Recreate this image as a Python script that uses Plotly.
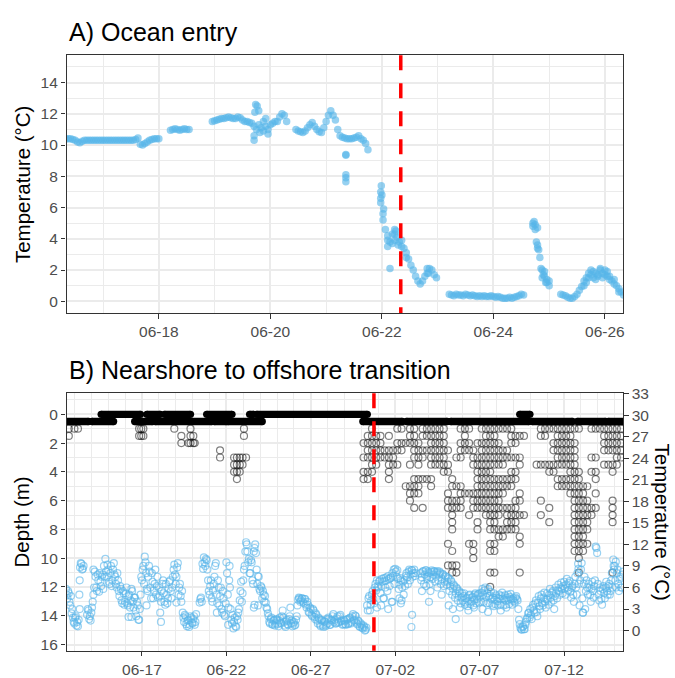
import pandas as pd
import plotly.graph_objects as go

YEAR = "2021-"

# ---------------- Panel A: ocean entry (hourly temperature readings) ----------------
a_seg_start = ["06-16 08:00", "06-18 05:00", "06-18 23:00", "06-20 11:00",
               "06-21 23:30", "06-23 05:00", "06-24 17:00", "06-25 05:00"]
a_seg_temp = [
    [10.4, 10.4, 10.4, 10.35, 10.3, 10.2, 10.15, 10.25, 10.3, 10.3, 10.3, 10.3, 10.3, 10.3, 10.3, 10.3,
     10.3, 10.3, 10.3, 10.3, 10.3, 10.3, 10.3, 10.3, 10.3, 10.3, 10.3, 10.3, 10.3, 10.3, 10.35, 10.45,
     10.05, 10.0, 10.1, 10.2, 10.3, 10.35, 10.4, 10.4, 10.4],
    [10.95, 11.0, 11.05, 11.0, 10.95, 11.0, 11.05, 11.0, 11.0],
    [11.5, 11.55, 11.6, 11.65, 11.7, 11.7, 11.75, 11.8, 11.75, 11.7, 11.7, 11.8, 11.75, 11.6, 11.5, 11.5,
     11.45, 11.4, 11.2, 11.0, 11.3, 11.1, 10.9, 11.2, 11.0, 11.3, 11.4, 11.5, 11.5, 11.8, 12.0, 11.9, 11.5],
    [11.0, 10.9, 10.85, 10.8, 10.9, 11.1, 11.3, 11.45, 11.2, 11.0, 10.85, 10.8, 11.1, 11.5, 11.9, 12.2,
     11.9, 11.6, 11.0, 10.6, 10.5, 10.45, 10.4, 10.4, 10.4, 10.45, 10.5, 10.6, 10.4, 10.3, 10.1, 9.7],
    [7.0, 5.6, 4.6, 3.9, 3.8, 3.7, 4.3, 4.1, 3.8, 3.9, 3.4, 3.1, 2.7, 2.3, 2.0, 1.6, 1.3, 1.1, 1.3, 1.6,
     1.8, 2.1, 2.0, 1.7, 1.5],
    [0.45, 0.4, 0.35, 0.45, 0.4, 0.4, 0.35, 0.45, 0.4, 0.35, 0.4, 0.35, 0.3, 0.35, 0.3, 0.35, 0.3, 0.3,
     0.35, 0.3, 0.25, 0.3, 0.25, 0.2, 0.2, 0.2, 0.25, 0.2, 0.25, 0.3, 0.35, 0.45, 0.4],
    [5.0, 4.9, 4.7, 2.8, 2.0, 1.6, 1.4, 1.0],
    [0.45, 0.4, 0.35, 0.25, 0.2, 0.2, 0.3, 0.45, 0.7, 0.95, 1.3, 1.5, 1.8, 1.7, 1.9, 1.8, 1.7, 2.0, 1.8,
     1.7, 1.6, 1.6, 1.3, 1.1, 1.0, 0.8, 0.6, 0.4],
]
a_extra_time = ["06-19 17:00", "06-19 17:00", "06-19 17:20", "06-19 17:40", "06-19 18:20", "06-19 19:00",
                "06-19 19:30", "06-19 21:00", "06-19 22:00", "06-19 23:00",
                "06-21 08:30", "06-21 08:30", "06-21 08:30", "06-21 08:30", "06-21 08:30",
                "06-21 23:30", "06-21 23:30", "06-21 23:45", "06-22 00:00", "06-22 00:30", "06-22 00:45",
                "06-22 02:30", "06-22 02:30", "06-22 03:30", "06-22 04:30", "06-22 05:30", "06-22 05:30",
                "06-22 06:00", "06-22 07:00", "06-22 08:30", "06-22 10:30", "06-22 19:30", "06-22 20:00",
                "06-24 17:00", "06-24 17:30", "06-24 18:00", "06-24 18:30", "06-24 19:00", "06-24 19:00",
                "06-24 19:30", "06-24 20:30", "06-24 21:00", "06-24 21:30", "06-24 22:00", "06-24 22:30",
                "06-24 23:00", "06-25 00:00",
                "06-25 15:00", "06-25 16:00", "06-25 17:00", "06-25 18:00", "06-25 19:00", "06-25 20:00",
                "06-25 21:00", "06-25 22:00", "06-25 23:00", "06-26 00:00", "06-26 01:00", "06-26 02:00",
                "06-26 04:00", "06-26 06:00"]
a_extra_temp = [10.3, 10.6, 12.1, 12.6, 12.5, 12.2, 10.8, 11.5, 11.7, 10.7,
                9.4, 9.35, 8.1, 7.9, 7.65,
                6.3, 6.6, 7.4, 6.8, 5.2, 5.9,
                3.5, 4.2, 2.1, 4.3, 4.6, 3.9, 4.5, 3.6, 3.5, 2.8, 2.1, 1.8,
                4.8, 5.1, 4.6, 3.8, 3.6, 3.4, 3.3, 2.1, 1.5, 1.7, 1.9, 1.2, 1.2, 1.3,
                1.0, 1.2, 1.5, 2.0, 1.5, 1.4, 1.6, 2.1, 1.5, 2.0, 1.9, 1.4, 1.4, 0.6]
a_release = "06-22 08:08"
a_xrange = ["06-16 08:15", "06-26 07:51"]

# ---------------- Panel B: nearshore to offshore ----------------
# hourly temperature, one row per day (first row starts 06-12 12:00)
b_temp_start = "06-12 12:00"
b_temp_1h = [
    [5.8, 5.0, 4.5, 5.5, 5.2, 4.0, 3.5, 4.8, 2.4, 3.0, 1.8, 1.2],                                         # 06-12
    [1.0, 1.8, 2.0, 0.7, 1.2, 0.6, 1.5, 5.0, 8.8, 9.4, 9.3, 8.5, 8.6, 9.0, None, None, None, None, 2.2, 3.0, 2.8, 1.6, 2.0, 1.4],
    [2.5, 3.2, 4.0, 5.0, 6.0, 8.2, 7.5, 6.0, 5.5, 7.8, 7.0, 5.4, 8.0, 6.8, 6.2, 7.5, 7.8, 5.8, 9.0, 7.5, 10.0, 8.2, 7.5, 9.2],
    [8.5, 6.8, 6.5, 8.0, 9.0, 6.2, 7.0, 8.5, 9.4, 7.8, 7.5, 6.5, 6.0, 8.0, 7.0, 5.5, 4.8, 6.2, 5.8, 4.2, 3.8, 5.5, 5.2, 3.6],
    [4.0, 5.2, 6.0, 3.8, 3.5, 4.8, 5.0, 3.2, 4.2, 5.8, 5.5, 4.0, 3.2, 4.6, 4.6, 2.8, 2.0, 4.0, 3.5, 1.5, 1.5, 3.0, 5.0, 7.5],
    [7.0, 8.5, 9.0, 6.5, 10.3, 9.5, 8.0, 5.8, 5.5, 7.5, 9.0, 8.2, 6.0, 4.5, 8.0, 6.8, 4.5, 5.6, 6.5, 8.5, 5.0, 6.2, 7.5, 4.6],
    [6.0, 4.8, 2.5, 4.0, 5.5, 6.5, 7.0, 5.2, 4.0, 3.6, 6.5, 5.0, 3.8, 4.5, 5.8, 6.8, 7.0, 5.5, 4.5, 6.0, 7.5, 8.5, 9.2, 7.8],
    [6.5, 7.5, 8.8, 9.4, 5.0, 6.0, 6.5, 4.8, 4.0, 5.5, 2.5, 1.8, 1.2, 2.2, 2.0, 0.9, 0.6, 1.4, 1.5, 0.5, 0.8, 2.0, 1.8, 1.1],
    [1.0, 1.6, 2.0, 0.8, 1.2, 2.3, None, None, None, None, 3.9, 4.4, 4.6, 4.0, 9.3, 8.6, 10.2, 9.5, 9.0, 10.0, 9.8, 8.5, 7.0, 5.5],
    [5.0, 6.2, 7.0, 4.5, 4.0, 5.6, 6.5, 7.5, 9.0, 9.4, 5.0, 3.8, 7.0, 6.0, 3.5, 4.8, 6.0, 3.0, 2.5, 5.5, 4.5, 2.2, 2.0, 3.8],
    [9.5, 8.0, 5.0, 3.2, 7.0, 6.0, 3.0, 1.5, 1.0, 2.2, 0.3, 1.2, 1.8, 0.6, 0.5, 2.0, 1.5, 2.5, 3.0, 4.2, 5.5, 6.8, 4.0, 5.2],
    [7.0, 8.5, 9.0, 11.0, 12.3, 12.0, 11.0, 9.5, 10.0, 8.0, 8.0, 9.8, 9.5, 7.0, 6.5, 11.0, 11.5, 12.0, 10.8, 8.5, 6.5, 7.6, 7.5, 5.8],
    [5.5, 6.2, 6.0, 4.5, 5.5, 5.0, 4.0, 4.8, 3.9, 3.2, 3.0, 2.4, 2.0, 1.2, 1.0, 1.6, 1.8, 0.9, 0.8, 1.4, 1.5, 0.7, 1.0, 1.6],
    [1.5, 0.9, 0.6, 1.4, 1.8, 1.1, 1.0, 2.0, 2.8, 1.8, 1.2, 0.7, 0.5, 1.3, 1.5, 0.9, 0.8, 1.6, 2.0, 3.2, 1.0, 1.4, 0.6, 1.0],
    [1.2, 0.7, 0.8, 1.5, 2.0, 3.5, 4.3, 4.6, 4.5, 4.0, 4.2, 4.5, 4.5, 4.0, 3.8, 4.4, 4.4, 3.6, 3.2, 4.0, 3.6, 2.6, 2.5, 3.2],
    [3.0, 2.2, 2.0, 3.0, 2.8, 1.9, 1.6, 2.4, 2.2, 1.4, 1.0, 1.8, 1.6, 0.8, 0.6, 1.5, 1.4, 0.7, 0.5, 1.3, 1.2, 0.6, 0.8, 1.6],
    [1.0, 1.8, 1.6, 0.8, 0.8, 1.5, 1.4, 2.0, 2.3, 1.2, 1.5, 1.0, 1.0, 1.7, 2.0, 1.1, 1.2, 2.0, 2.2, 1.3, 1.4, 0.8, 0.9, 1.5],
    [1.3, 0.9, 0.8, 1.5, 1.6, 0.9, 1.0, 1.7, 1.8, 1.0, 1.2, 2.0, 2.3, 1.4, 1.5, 2.1, 2.0, 1.1, 0.9, 1.4, 1.3, 0.6, 0.5, 1.0],
    [0.8, 0.4, 0.3, 0.7, 0.5, 0.0, 0.1, 0.4, 3.5, 2.8, 4.5, 4.8, 2.8, 3.6, 4.2, 5.0, 5.5, 4.4, 3.8, 6.0, 6.5, 5.6, 7.0, 6.2],
    [6.0, 6.8, 7.0, 5.2, 6.2, 7.2, 6.8, 4.5, 7.3, 6.9, 6.0, 7.4, 7.0, 5.5, 7.6, 7.2, 6.2, 7.3, 7.4, 4.0, 8.0, 7.6, 8.5, 6.5],
    [8.6, 8.2, 7.5, 8.4, 7.2, 5.8, 6.4, 7.3, 7.0, 4.2, 6.0, 6.8, 5.0, 7.0, 6.2, 7.6, 8.0, 7.4, 6.5, 8.2, 8.5, 7.0, 7.8, 8.4],
    [8.4, 7.5, 8.0, 8.5, 7.6, 8.0, None, None, None, None, None, None, 8.0, 7.0, 7.4, 8.2, 8.3, 6.5, 7.8, 8.4, 8.4, 7.2, 7.6, 8.2],
    [8.0, 6.5, 7.4, 8.2, 8.4, 7.2, 7.8, 8.3, 8.2, 6.8, 7.5, 8.1, 8.3, 7.0, 7.8, 8.2, 8.0, 6.5, 7.2, 7.9, 7.8, 6.2, 6.8, 7.6],
    [7.5, 6.4, 6.8, 7.4, 7.2, 5.5, 6.2, 7.0, 6.8, 5.0, 5.8, 6.4, 6.2, 4.6, 5.2, 6.0, 5.8, 4.2, 4.8, 5.5, 5.3, 3.8, 4.6, 5.2],
    [4.2, 4.8, 5.2, 3.6, 3.9, 4.5, 4.6, 3.4, 4.1, 4.9, 5.0, 3.7, 4.0, 4.6, 4.7, 3.5, 4.3, 5.0, 5.2, 3.8, 4.4, 4.9, 5.1, 3.9],
    [5.2, 4.7, 4.0, 5.3, 5.8, 5.0, 4.0, 5.6, 6.0, 4.7, 3.8, 5.2, 5.8, 4.8, 3.8, 4.9, 5.4, 4.4, 3.6, 4.6, 5.2, 4.3, 3.7, 4.9],
    [4.6, 4.1, 3.5, 4.5, 5.0, 4.4, 3.6, 4.8, 5.3, 4.5, 3.5, 4.3, 4.9, 4.2, 3.6, 4.6, 5.0, 4.3, 3.7, 4.7, 5.1, 4.4, 3.6, 4.3],
    [4.5, 4.1, 3.9, 4.6, 4.8, 4.4, 4.2, 3.0, 1.5, 0.9, 0.4, 0.2, 0.1, 0.5, 0.6, 0.2, 0.2, 0.8, 1.2, 1.6, 1.8, 2.4, 2.5, 1.8],
    [3.0, 2.2, 1.6, 3.2, 3.6, 2.8, 2.5, 3.8, 4.2, 2.6, 2.0, 3.9, 4.8, 3.4, 3.0, 4.5, 5.0, 3.8, 3.5, 4.6, 5.3, 4.0, 3.2, 4.4],
    [5.2, 4.3, 3.6, 5.0, 5.8, 4.6, 4.0, 5.3, 5.5, 4.2, 3.0, 4.8, 6.0, 5.2, 4.5, 5.6, 6.4, 5.5, 5.0, 6.0, 6.7, 5.8, 5.2, 6.2],
    [6.8, 5.8, 5.0, 6.4, 7.2, 6.0, 5.6, 6.6, 6.9, 5.4, 4.6, 6.0, 6.2, 5.0, 4.0, 6.5, 7.5, 6.0, 5.0, 8.0, 9.3, 6.5, 3.5, 7.0],
    [8.5, 9.4, 4.5, 2.5, 6.5, 7.5, 3.0, 5.5, 7.0, 6.0, 5.0, 6.5, 6.0, 5.0, 4.0, 5.8, 6.8, 5.5, 4.6, 6.2, 7.0, 11.7, 11.5, 10.8],
    [6.5, 5.0, 4.2, 6.0, 5.5, 4.4, 3.6, 5.8, 6.2, 5.2, 4.5, 6.0, 6.8, 5.5, 5.0, 6.2, 6.5, 5.0, 5.5, 7.0, 8.0, 6.0, 9.9, 8.5],
    [9.0, 7.0, 6.0, 8.0, 8.5, 6.5, 5.5, 7.2, 7.5, 6.0, 6.0, 7.8, 8.2],                                   # 07-15
]
b_extra_time = ["06-13 07:30", "06-13 07:30", "06-14 03:00", "06-16 05:00", "06-16 09:00",
                "06-17 06:30", "06-18 03:00", "06-19 01:00", "06-21 10:30",
                "06-22 02:30", "06-22 04:30", "06-23 15:00", "06-23 16:00", "06-23 21:00",
                "06-30 22:00", "07-01 04:00", "07-01 08:00", "07-01 14:00", "07-01 20:00", "07-02 06:00",
                "07-02 08:00", "07-02 23:00", "07-03 00:00", "07-03 14:00", "07-03 20:00", "07-04 00:00",
                "07-04 02:00", "07-04 12:00", "07-04 18:00", "07-05 04:00", "07-05 10:00", "07-05 14:00",
                "07-05 20:00", "07-06 08:00", "07-06 16:00", "07-07 04:00", "07-07 12:00", "07-07 20:00",
                "07-08 06:00", "07-08 14:00", "07-12 20:30", "07-13 02:30", "07-14 22:30", "07-15 01:30"]
b_extra_temp = [3.0, 7.0, 8.5, 1.9, 1.9,
                3.5, 1.2, 3.9, 2.5,
                0.8, 9.0, 3.2, 3.6, 3.5,
                3.2, 3.5, 4.5, 3.0, 4.0, 4.5,
                3.8, 0.5, 2.2, 5.5, 6.2, 4.0,
                5.5, 6.0, 5.0, 3.5, 3.0, 1.6,
                3.2, 2.8, 3.2, 3.0, 2.6, 3.4,
                2.8, 3.2, 8.6, 2.5, 9.0, 9.6]

# depth: runs of continuous near-surface readings
surf_run_start = ["06-12 11:00", "06-14 01:00", "06-14 14:00", "06-16 13:40", "06-17 07:00", "06-17 19:00",
                  "06-18 08:00", "06-20 20:00", "06-21 07:00", "06-22 02:00", "06-23 09:00", "06-23 19:00",
                  "06-30 02:00", "07-02 16:00", "07-05 07:00", "07-09 09:00", "07-10 03:00", "07-12 19:00",
                  "07-14 15:00"]
surf_run_end = ["06-13 20:00", "06-15 07:40", "06-16 22:00", "06-17 15:00", "06-18 02:00", "06-21 03:00",
                "06-19 21:00", "06-22 08:00", "06-22 00:00", "06-24 03:00", "06-23 15:00", "06-30 08:20",
                "07-02 10:00", "07-05 02:00", "07-09 22:00", "07-09 23:30", "07-12 12:00", "07-14 11:00",
                "07-15 14:00"]
surf_run_depth = [0.5, 0.5, 0, 0.5, 0, 0.5, 0, 0, 0.5, 0.5, 0, 0, 0.5, 0.5, 0.5, 0, 0.5, 0.5, 0.5]

# depth: deeper readings, grouped by time
dive_time = ["06-12 16:00", "06-13 00:00", "06-13 05:00", "06-16 20:00", "06-16 23:00", "06-17 02:00",
             "06-18 22:00", "06-19 08:00", "06-19 18:00", "06-19 21:00", "06-20 01:00", "06-20 03:00",
             "06-21 15:00", "06-22 11:00", "06-22 15:00", "06-22 19:00", "06-22 23:00", "06-23 01:00",
             "06-23 04:00",
             "06-30 03:00", "06-30 09:00", "06-30 15:00", "06-30 21:00",
             "07-01 03:00", "07-01 09:00", "07-01 15:00", "07-01 21:00",
             "07-02 03:00", "07-02 09:00", "07-02 15:00", "07-02 21:00",
             "07-03 03:00", "07-03 09:00", "07-03 15:00", "07-03 21:00",
             "07-04 03:00", "07-04 09:00", "07-04 15:00", "07-04 21:00",
             "07-05 03:00", "07-05 09:00", "07-05 15:00", "07-05 21:00",
             "07-06 03:00", "07-06 09:00", "07-06 15:00", "07-06 21:00",
             "07-07 03:00", "07-07 09:00", "07-07 15:00", "07-07 21:00",
             "07-08 03:00", "07-08 09:00", "07-08 15:00", "07-08 21:00",
             "07-09 03:00", "07-09 09:00", "07-09 15:00",
             "07-10 09:00", "07-10 15:00", "07-10 21:00",
             "07-11 03:00", "07-11 09:00", "07-11 15:00", "07-11 21:00",
             "07-12 03:00", "07-12 09:00", "07-12 15:00", "07-12 21:00",
             "07-13 03:00", "07-13 09:00", "07-13 15:00", "07-13 21:00",
             "07-14 03:00", "07-14 09:00", "07-14 15:00", "07-14 21:00",
             "07-15 03:00", "07-15 09:00"]
dive_depths = [[1, 1.5], [1], [1], [1, 1.5], [1, 1.5], [1, 1.5],
               [1], [1.5, 2], [2], [1, 1.5, 2], [1.5, 2], [2],
               [2.5, 3], [3, 3.5, 4], [3, 3.5, 4, 4.5], [3, 3.5, 4], [3, 3.5], [1, 1.5],
               [3],
               [2, 3, 4, 4.5], [1.5, 2, 2.5, 3, 4, 4.5], [1, 1.5, 2, 2.5, 3, 3.5, 4], [1.5, 2, 2.5, 3, 3.5],
               [1.5, 2, 2.5, 3], [2.5, 3], [1.5, 2.5, 3, 3.5, 4, 4.5], [2.5, 3, 3.5],
               [1, 2, 2.5, 3.5], [1, 2, 2.5], [2, 5], [1, 1.5, 2, 3.5, 5, 5.5, 6],
               [1, 1.5, 2, 2.5, 3, 4.5, 5, 5.5, 6.5], [2, 2.5, 3, 3.5, 4.5, 5, 5.5],
               [1, 1.5, 2.5, 3, 4.5, 6.5], [1, 1.5, 2.5, 4.5],
               [1, 1.5, 2, 2.5, 3, 3.5, 4.5, 5], [1, 1.5, 2, 2.5, 3, 3.5], [1, 1.5, 2, 2.5, 3, 3.5],
               [1, 1.5, 2, 2.5, 3, 3.5, 4],
               [2.5, 3.5, 4, 5.5, 6, 6.5, 9, 10.5], [4.5, 5, 6, 6.5, 7, 7.5, 8, 9.5, 10.5, 11],
               [3, 5, 6, 6.5, 10.5, 11], [1, 2, 2.5, 3, 5, 5.5, 6, 6.5],
               [1, 1.5, 2, 2.5, 5.5], [1, 2, 2.5, 5.5, 7, 9], [2.5, 3, 3.5, 5.5, 6, 6.5, 9, 9.5, 10],
               [2, 3, 3.5, 4, 4.5, 5, 5.5, 6, 6.5, 7.5, 8],
               [1, 2, 2.5, 3, 3.5, 4, 4.5, 5, 5.5, 6, 6.5], [1, 1.5, 2, 2.5, 3, 3.5, 4, 4.5, 5, 5.5, 6, 6.5, 7],
               [1, 1.5, 2, 2.5, 3, 3.5, 4, 4.5, 5, 5.5, 6, 6.5, 7, 7.5, 8, 9, 9.5, 11, 12],
               [1, 1.5, 2, 2.5, 3, 3.5, 4.5, 5, 5.5, 6, 6.5, 7, 7.5, 8, 9, 9.5, 11],
               [1, 2, 2.5, 3, 3.5, 4.5, 5, 5.5, 6, 6.5, 7, 8, 8.5], [1, 2.5, 3, 3.5, 4.5, 5, 5.5, 6.5, 8, 8.5],
               [1, 2.5, 3, 4.5, 5, 6.5, 7, 7.5, 8], [1, 1.5, 2, 3, 4, 4.5, 5, 6.5, 7, 7.5, 8],
               [1.5, 2, 3, 4, 4.5, 6, 6.5, 7, 7.5, 8], [1.5, 3, 3.5, 5.5, 6, 7, 8.5, 9, 11], [1.5, 7],
               [3.5], [1, 1.5, 3.5, 6, 7], [1, 1.5, 3.5],
               [1, 3.5, 4, 6.5, 7.5], [1, 2, 2.5, 3.5, 4], [1, 1.5, 2, 2.5, 3, 3.5, 4.5, 5],
               [1, 1.5, 2, 2.5, 3, 3.5, 4.5, 5],
               [1, 1.5, 2, 2.5, 3, 3.5, 4.5, 5], [1, 1.5, 2, 2.5, 3, 3.5, 4, 4.5, 5, 5.5],
               [1, 2, 2.5, 3, 3.5, 4, 4.5, 5, 5.5, 6, 6.5, 7, 7.5, 8, 8.5, 9, 9.5],
               [1, 4, 4.5, 5, 5.5, 6, 6.5, 7, 7.5, 8, 8.5, 9, 9.5, 10, 11],
               [5, 5.5, 6, 6.5, 7, 7.5, 8, 8.5, 9, 9.5], [5, 6, 6.5, 7, 7.5, 8, 9], [1, 3, 4, 6.5, 7],
               [1, 3, 4, 4.5, 5.5, 6.5],
               [1], [1, 1.5, 2, 2.5, 3.5], [1, 1.5, 2, 2.5, 3.5], [1, 1.5, 2, 2.5, 3.5, 4, 6, 6.5, 7, 7.5, 11],
               [1, 1.5, 2, 2.5, 3, 3.5], [1, 1.5, 2, 2.5, 3]]
b_release = "06-30 17:45"
b_xrange = ["06-12 12:45", "07-15 12:00"]

# ---------------- build ----------------
def ts(s):
    return pd.Timestamp(YEAR + s)

BLUE_A = "rgba(86,180,233,0.62)"
BLUE_B = "rgba(86,180,233,0.6)"
BLACK_B = "rgba(0,0,0,0.5)"

a_x, a_y = [], []
for start, vals in zip(a_seg_start, a_seg_temp):
    t0 = ts(start)
    for i, v in enumerate(vals):
        a_x.append(t0 + pd.Timedelta(hours=i))
        a_y.append(v)
a_x += [ts(s) for s in a_extra_time]
a_y += a_extra_temp

b_x, b_y = [], []
t0 = ts(b_temp_start)
k = 0
for row in b_temp_1h:
    for v in row:
        if v is not None:
            b_x.append(t0 + pd.Timedelta(hours=k))
            b_y.append(v)
        k += 1
b_x += [ts(s) for s in b_extra_time]
b_y += b_extra_temp

run_x, run_y = [], []
for s, e, d in zip(surf_run_start, surf_run_end, surf_run_depth):
    run_x += [ts(s), ts(e), None]
    run_y += [d, d, None]

dv_x, dv_y = [], []
for t, ds in zip(dive_time, dive_depths):
    for d in ds:
        dv_x.append(ts(t))
        dv_y.append(d)

fig = go.Figure()
fig.add_trace(go.Scatter(x=a_x, y=a_y, mode="markers", xaxis="x", yaxis="y",
                         marker=dict(size=7.5, color=BLUE_A, line=dict(width=0))))
fig.add_trace(go.Scatter(x=b_x, y=b_y, mode="markers", xaxis="x2", yaxis="y3",
                         marker=dict(symbol="circle-open", size=7, color=BLUE_B, line=dict(width=1.2))))
fig.add_trace(go.Scatter(x=run_x, y=run_y, mode="lines+markers", xaxis="x2", yaxis="y2",
                         line=dict(color="#000000", width=7.3),
                         marker=dict(size=7.3, color="#000000")))
fig.add_trace(go.Scatter(x=dv_x, y=dv_y, mode="markers", xaxis="x2", yaxis="y2",
                         marker=dict(symbol="circle-open", size=7, color=BLACK_B, line=dict(width=1.2))))

W, H = 675, 678
L, R = 66.7 / W, 625 / W
GRID = "#EBEBEB"
BORDER = "#333333"
TICKFONT = dict(size=15.5, color="#4D4D4D")
DAY = 86400000

common_axis = dict(showline=True, mirror=True, linecolor=BORDER, linewidth=1.1,
                   ticks="outside", ticklen=4.5, tickwidth=1.1, tickcolor=BORDER,
                   tickfont=TICKFONT, showgrid=True, gridcolor=GRID, gridwidth=1.6, zeroline=False)

fig.update_layout(
    width=W, height=H, margin=dict(l=0, r=0, t=0, b=0),
    paper_bgcolor="white", plot_bgcolor="white", showlegend=False,
    font=dict(family="Liberation Sans, Arial, sans-serif", color="#000000"),
    xaxis=dict(domain=[L, R], anchor="y", type="date", range=[ts(a_xrange[0]), ts(a_xrange[1])],
               tick0=ts("06-18 00:00"), dtick=2 * DAY, tickformat="%m-%d",
               minor=dict(tick0=ts("06-18 00:00"), dtick=DAY, showgrid=True, gridcolor=GRID, gridwidth=0.8),
               **common_axis),
    yaxis=dict(domain=[1 - 310 / H, 1 - 48 / H], anchor="x", range=[-0.75, 15.75], tick0=0, dtick=2,
               minor=dict(tick0=0, dtick=1, showgrid=True, gridcolor=GRID, gridwidth=0.8),
               **common_axis),
    xaxis2=dict(domain=[L, R], anchor="y2", type="date", range=[ts(b_xrange[0]), ts(b_xrange[1])],
                tick0=ts("06-17 00:00"), dtick=5 * DAY, tickformat="%m-%d",
                minor=dict(tick0=ts("06-17 00:00"), dtick=DAY, showgrid=True, gridcolor=GRID, gridwidth=0.8),
                **common_axis),
    yaxis2=dict(domain=[1 - 653.3 / H, 1 - 391.7 / H], anchor="x2", range=[16.43, -1.458], tick0=0, dtick=2,
                minor=dict(tick0=0, dtick=1, showgrid=True, gridcolor=GRID, gridwidth=0.8),
                **common_axis),
    yaxis3=dict(overlaying="y2", anchor="x2", side="right", range=[-2.8, 33.04], tick0=0, dtick=3,
                showgrid=False, zeroline=False, showline=False,
                ticks="outside", ticklen=4.5, tickwidth=1.1, tickcolor=BORDER, tickfont=TICKFONT),
)

fig.add_shape(type="line", xref="x", yref="y domain", x0=ts(a_release), x1=ts(a_release), y0=1, y1=0,
              line=dict(color="#FF0000", width=3.5, dash="15px,13px"))
fig.add_shape(type="line", xref="x2", yref="y2 domain", x0=ts(b_release), x1=ts(b_release), y0=1, y1=0,
              line=dict(color="#FF0000", width=3.5, dash="15px,13px"))

ann = [
    dict(text="A) Ocean entry", x=L, y=1 - 24 / H, xanchor="left", yanchor="middle", font=dict(size=25)),
    dict(text="B) Nearshore to offshore transition", x=L, y=1 - 368 / H, xanchor="left", yanchor="middle",
         font=dict(size=25)),
    dict(text="Temperature (°C)", x=22 / W, y=1 - 179 / H, textangle=-90, xanchor="center", yanchor="middle",
         font=dict(size=20.5)),
    dict(text="Depth (m)", x=22 / W, y=1 - 522 / H, textangle=-90, xanchor="center", yanchor="middle",
         font=dict(size=20.5)),
    dict(text="Temperature (°C)", x=664 / W, y=1 - 522 / H, textangle=90, xanchor="center", yanchor="middle",
         font=dict(size=20.5)),
]
for a in ann:
    fig.add_annotation(xref="paper", yref="paper", showarrow=False, **a)

fig.write_html("out.html", config={"displayModeBar": False},
               post_script="document.body.style.margin='0px';")
